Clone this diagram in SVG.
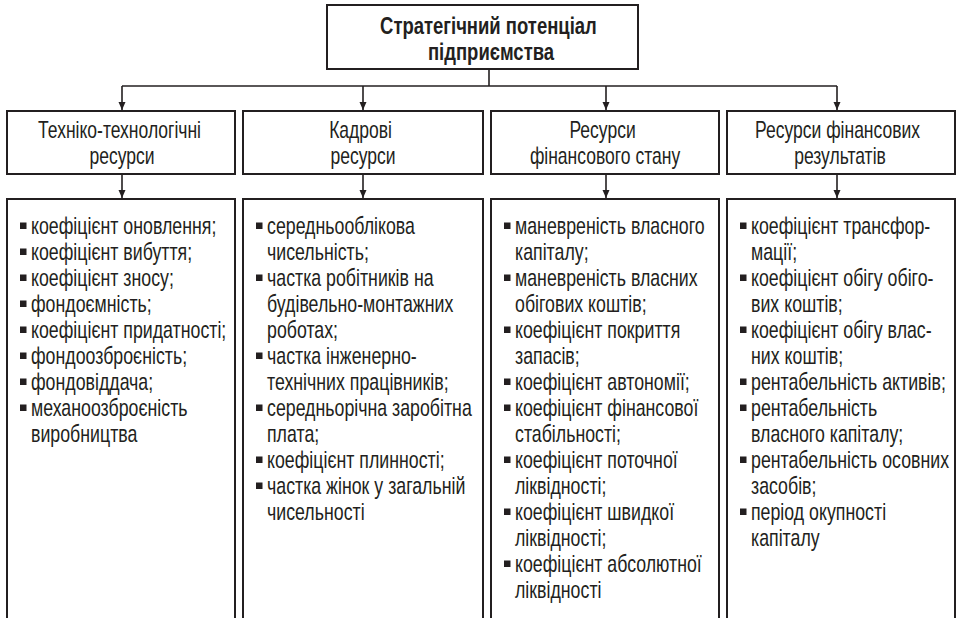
<svg xmlns="http://www.w3.org/2000/svg" xmlns:xlink="http://www.w3.org/1999/xlink" width="957" height="618" viewBox="0 0 957 618">
  <style>
    .box { fill: #ffffff; stroke: #231f20; stroke-width: 2; }
    .wire { fill: none; stroke: #231f20; stroke-width: 1.6; }
    .title { font-family: "Liberation Sans", Arial, sans-serif; font-size: 24px; font-weight: bold; fill: #231f20; text-anchor: middle; }
    .head { font-family: "Liberation Sans", Arial, sans-serif; font-size: 24px; fill: #231f20; text-anchor: middle; }
    .item { font-family: "Liberation Sans", Arial, sans-serif; font-size: 24px; fill: #231f20; }
    .dot { fill: #231f20; }
  </style>
  <defs>
    <marker id="arrow" markerWidth="8" markerHeight="11" refX="8" refY="3.5" orient="auto" markerUnits="userSpaceOnUse" viewBox="0 0 8 7">
      <path d="M0,0 L8,3.5 L0,7 Z" fill="#231f20"/>
    </marker>
    <!-- list bullet, positioned by its baseline -->
    <rect id="sq" x="0" y="-11.5" width="6.5" height="6.5" class="dot"/>
  </defs>

  <!-- root node -->
  <g id="root">
    <rect class="box" x="327" y="5" width="311" height="64"/>
    <text class="title" transform="translate(491,0) scale(0.77,1)">
      <tspan x="0" y="34">Стратегічний потенціал</tspan>
      <tspan x="0" y="60">підприємства</tspan>
    </text>
  </g>

  <!-- connectors -->
  <g id="connectors">
    <path class="wire" d="M489,69 V86"/>
    <path class="wire" d="M122,86 H837"/>
    <path class="wire" d="M122,86 V110" marker-end="url(#arrow)"/>
    <path class="wire" d="M363,86 V110" marker-end="url(#arrow)"/>
    <path class="wire" d="M606,86 V110" marker-end="url(#arrow)"/>
    <path class="wire" d="M837,86 V110" marker-end="url(#arrow)"/>
    <path class="wire" d="M122,174 V198" marker-end="url(#arrow)"/>
    <path class="wire" d="M363,174 V198" marker-end="url(#arrow)"/>
    <path class="wire" d="M606,174 V198" marker-end="url(#arrow)"/>
    <path class="wire" d="M837,174 V198" marker-end="url(#arrow)"/>
  </g>

  <!-- resource categories -->
  <g id="tech-head">
    <rect class="box" x="7" y="111" width="228" height="63"/>
    <text class="head" transform="translate(122,0) scale(0.73,1)">
      <tspan x="0" y="138">Техніко-технологічні</tspan>
      <tspan x="0" y="164">ресурси</tspan>
    </text>
  </g>
  <g id="staff-head">
    <rect class="box" x="243" y="111" width="240" height="63"/>
    <text class="head" transform="translate(363,0) scale(0.73,1)">
      <tspan x="0" y="138">Кадрові</tspan>
      <tspan x="0" y="164">ресурси</tspan>
    </text>
  </g>
  <g id="fin-state-head">
    <rect class="box" x="491" y="111" width="228" height="63"/>
    <text class="head" transform="translate(605,0) scale(0.73,1)">
      <tspan x="0" y="138">Ресурси</tspan>
      <tspan x="0" y="164">фінансового стану</tspan>
    </text>
  </g>
  <g id="fin-result-head">
    <rect class="box" x="727" y="111" width="228" height="63"/>
    <text class="head" transform="translate(840,0) scale(0.73,1)">
      <tspan x="0" y="138">Ресурси фінансових</tspan>
      <tspan x="0" y="164">результатів</tspan>
    </text>
  </g>

  <!-- indicator lists -->
  <g id="tech-list">
    <rect class="box" x="7" y="199" width="228" height="440"/>
    <use xlink:href="#sq" x="20" y="234"/>
    <use xlink:href="#sq" x="20" y="260"/>
    <use xlink:href="#sq" x="20" y="286"/>
    <use xlink:href="#sq" x="20" y="312"/>
    <use xlink:href="#sq" x="20" y="338"/>
    <use xlink:href="#sq" x="20" y="364"/>
    <use xlink:href="#sq" x="20" y="390"/>
    <use xlink:href="#sq" x="20" y="416"/>
    <text class="item" transform="translate(31,0) scale(0.74,1)">
      <tspan x="0" y="234">коефіцієнт оновлення;</tspan>
      <tspan x="0" y="260">коефіцієнт вибуття;</tspan>
      <tspan x="0" y="286">коефіцієнт зносу;</tspan>
      <tspan x="0" y="312">фондоємність;</tspan>
      <tspan x="0" y="338">коефіцієнт придатності;</tspan>
      <tspan x="0" y="364">фондоозброєність;</tspan>
      <tspan x="0" y="390">фондовіддача;</tspan>
      <tspan x="0" y="416">механоозброєність</tspan>
      <tspan x="0" y="442">виробництва</tspan>
    </text>
  </g>

  <g id="staff-list">
    <rect class="box" x="243" y="199" width="240" height="440"/>
    <use xlink:href="#sq" x="256" y="234"/>
    <use xlink:href="#sq" x="256" y="286"/>
    <use xlink:href="#sq" x="256" y="364"/>
    <use xlink:href="#sq" x="256" y="416"/>
    <use xlink:href="#sq" x="256" y="468"/>
    <use xlink:href="#sq" x="256" y="494"/>
    <text class="item" transform="translate(267,0) scale(0.74,1)">
      <tspan x="0" y="234">середньооблікова</tspan>
      <tspan x="0" y="260">чисельність;</tspan>
      <tspan x="0" y="286">частка робітників на</tspan>
      <tspan x="0" y="312">будівельно-монтажних</tspan>
      <tspan x="0" y="338">роботах;</tspan>
      <tspan x="0" y="364">частка інженерно-</tspan>
      <tspan x="0" y="390">технічних працівників;</tspan>
      <tspan x="0" y="416">середньорічна заробітна</tspan>
      <tspan x="0" y="442">плата;</tspan>
      <tspan x="0" y="468">коефіцієнт плинності;</tspan>
      <tspan x="0" y="494">частка жінок у загальній</tspan>
      <tspan x="0" y="520">чисельності</tspan>
    </text>
  </g>

  <g id="fin-state-list">
    <rect class="box" x="491" y="199" width="228" height="440"/>
    <use xlink:href="#sq" x="504" y="234"/>
    <use xlink:href="#sq" x="504" y="286"/>
    <use xlink:href="#sq" x="504" y="338"/>
    <use xlink:href="#sq" x="504" y="390"/>
    <use xlink:href="#sq" x="504" y="416"/>
    <use xlink:href="#sq" x="504" y="468"/>
    <use xlink:href="#sq" x="504" y="520"/>
    <use xlink:href="#sq" x="504" y="572"/>
    <text class="item" transform="translate(515,0) scale(0.74,1)">
      <tspan x="0" y="234">маневреність власного</tspan>
      <tspan x="0" y="260">капіталу;</tspan>
      <tspan x="0" y="286">маневреність власних</tspan>
      <tspan x="0" y="312">обігових коштів;</tspan>
      <tspan x="0" y="338">коефіцієнт покриття</tspan>
      <tspan x="0" y="364">запасів;</tspan>
      <tspan x="0" y="390">коефіцієнт автономії;</tspan>
      <tspan x="0" y="416">коефіцієнт фінансової</tspan>
      <tspan x="0" y="442">стабільності;</tspan>
      <tspan x="0" y="468">коефіцієнт поточної</tspan>
      <tspan x="0" y="494">ліквідності;</tspan>
      <tspan x="0" y="520">коефіцієнт швидкої</tspan>
      <tspan x="0" y="546">ліквідності;</tspan>
      <tspan x="0" y="572">коефіцієнт абсолютної</tspan>
      <tspan x="0" y="598">ліквідності</tspan>
    </text>
  </g>

  <g id="fin-result-list">
    <rect class="box" x="727" y="199" width="228" height="440"/>
    <use xlink:href="#sq" x="740" y="234"/>
    <use xlink:href="#sq" x="740" y="286"/>
    <use xlink:href="#sq" x="740" y="338"/>
    <use xlink:href="#sq" x="740" y="390"/>
    <use xlink:href="#sq" x="740" y="416"/>
    <use xlink:href="#sq" x="740" y="468"/>
    <use xlink:href="#sq" x="740" y="520"/>
    <text class="item" transform="translate(751,0) scale(0.74,1)">
      <tspan x="0" y="234">коефіцієнт трансфор-</tspan>
      <tspan x="0" y="260">мації;</tspan>
      <tspan x="0" y="286">коефіцієнт обігу обіго-</tspan>
      <tspan x="0" y="312">вих коштів;</tspan>
      <tspan x="0" y="338">коефіцієнт обігу влас-</tspan>
      <tspan x="0" y="364">них коштів;</tspan>
      <tspan x="0" y="390">рентабельність активів;</tspan>
      <tspan x="0" y="416">рентабельність</tspan>
      <tspan x="0" y="442">власного капіталу;</tspan>
      <tspan x="0" y="468">рентабельність осовних</tspan>
      <tspan x="0" y="494">засобів;</tspan>
      <tspan x="0" y="520">період окупності</tspan>
      <tspan x="0" y="546">капіталу</tspan>
    </text>
  </g>
</svg>
